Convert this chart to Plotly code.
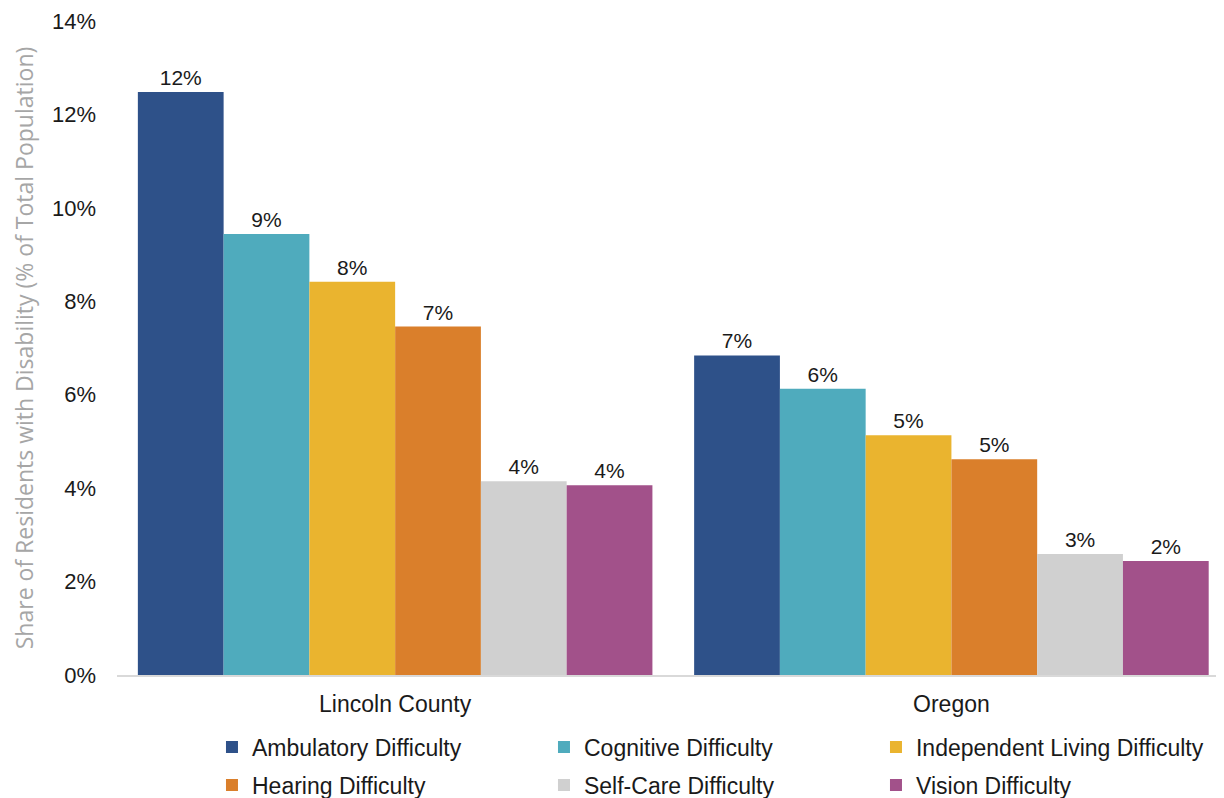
import plotly.graph_objects as go

categories = ["Lincoln County", "Oregon"]
series_names = ["Ambulatory Difficulty", "Cognitive Difficulty", "Independent Living Difficulty",
                "Hearing Difficulty", "Self-Care Difficulty", "Vision Difficulty"]
ambulatory = [0.1248, 0.0684]
cognitive = [0.0944, 0.0613]
independent = [0.0842, 0.0513]
hearing = [0.0746, 0.0462]
selfcare = [0.0415, 0.0259]
vision = [0.0406, 0.0244]
values = [ambulatory, cognitive, independent, hearing, selfcare, vision]
colors = ["#2E5189", "#4FABBD", "#EAB42F", "#DA7F2B", "#D0D0D0", "#A2518A"]
y_ticks = [0, 0.02, 0.04, 0.06, 0.08, 0.10, 0.12, 0.14]

FONT = "Liberation Sans"
TXT = "#1a1a1a"
W, H = 1216, 790  # page body adds an 8px margin
fig = go.Figure()
for i, (name, vals, col) in enumerate(zip(series_names, values, colors)):
    fig.add_trace(go.Bar(
        x=categories, y=vals, name=name,
        marker=dict(color=col, line=dict(width=0)),
        texttemplate="%{y:.0%}", textposition="outside", cliponaxis=False,
        textfont=dict(size=21, color=TXT, family=FONT),
        legend="legend" if i < 3 else "legend2",
    ))

legend_common = dict(orientation="h", xanchor="left", yanchor="middle",
                     xref="paper", yref="container",
                     font=dict(size=23, color=TXT, family=FONT),
                     entrywidth=287, entrywidthmode="pixels",
                     bgcolor="rgba(0,0,0,0)", itemwidth=30, traceorder="normal")

fig.update_layout(
    width=W, height=H,
    margin=dict(l=109, r=0, t=13, b=123, autoexpand=False),
    plot_bgcolor="white", paper_bgcolor="white",
    barmode="group", bargap=0.075, bargroupgap=0,
    font=dict(family=FONT, color=TXT),
    legend=dict(x=0.0858, y=(H - 739) / H, **legend_common),
    legend2=dict(x=0.0858, y=(H - 777) / H, **legend_common),
    yaxis=dict(range=[0, 0.14], tickvals=y_ticks, tickformat=".0%",
               showgrid=False, zeroline=False, showline=False, automargin=False,
               tickfont=dict(size=22, color=TXT, family=FONT),
               ticks="", ticklabelstandoff=20,
               title=dict(text="Share of Residents with Disability (% of Total Population)",
                          font=dict(size=23, color="#a6a6a6", family="Open Sans"), standoff=24)),
    xaxis=dict(range=[-0.5, 1.49], showline=True, linecolor="#d9d9d9", linewidth=1.5,
               ticks="", automargin=False, ticklabelstandoff=8,
               tickfont=dict(size=23, color=TXT, family=FONT)),
)
fig.write_html("out.html")
